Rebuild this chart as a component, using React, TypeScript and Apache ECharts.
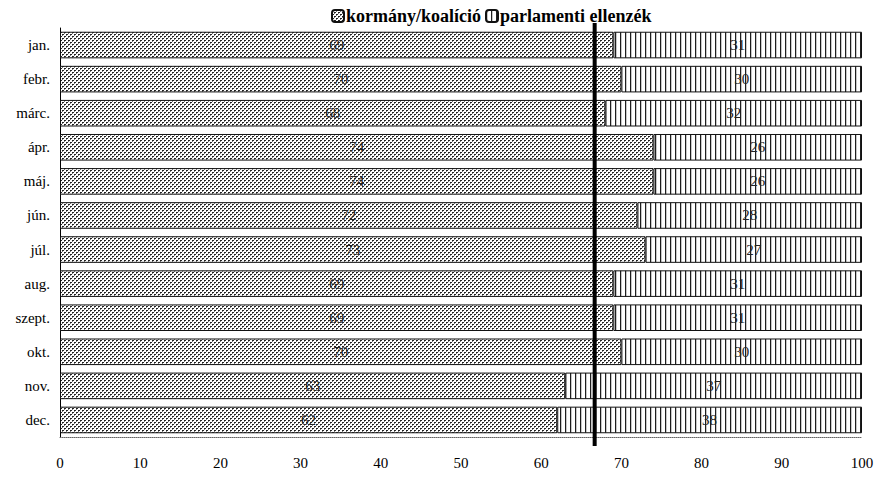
import React, { useEffect, useRef } from "react";
import * as echarts from "echarts";

// Monthly seat shares (%), government coalition vs. parliamentary opposition
const months = ["jan.", "febr.", "márc.", "ápr.", "máj.", "jún.", "júl.", "aug.", "szept.", "okt.", "nov.", "dec."];
const government = [69, 70, 68, 74, 74, 72, 73, 69, 69, 70, 63, 62];
const opposition = [31, 30, 32, 26, 26, 28, 27, 31, 31, 30, 37, 38];
const seriesNames = ["kormány/koalíció", "parlamenti ellenzék"];
const xTicks = [0, 10, 20, 30, 40, 50, 60, 70, 80, 90, 100];
// two-thirds majority threshold
const twoThirds = 200 / 3;

const SERIF = '"Liberation Serif", "Times New Roman", "DejaVu Serif", serif';

function makeTile(w: number, h: number, draw: (img: ImageData) => void): HTMLCanvasElement {
  const c = document.createElement("canvas");
  c.width = w;
  c.height = h;
  const ctx = c.getContext("2d")!;
  const img = ctx.createImageData(w, h);
  for (let i = 0; i < w * h; i++) {
    img.data[i * 4] = 255;
    img.data[i * 4 + 1] = 255;
    img.data[i * 4 + 2] = 255;
    img.data[i * 4 + 3] = 255;
  }
  draw(img);
  ctx.putImageData(img, 0, 0);
  return c;
}

function setPx(img: ImageData, x: number, y: number, v: number) {
  const i = (y * img.width + x) * 4;
  img.data[i] = v;
  img.data[i + 1] = v;
  img.data[i + 2] = v;
}

// staggered dot fill
const dotTile = makeTile(4, 4, (img) => {
  setPx(img, 0, 0, 30);
  setPx(img, 1, 0, 40);
  setPx(img, 2, 2, 30);
  setPx(img, 3, 2, 40);
  setPx(img, 0, 1, 120);
  setPx(img, 2, 3, 120);
});

// vertical hatch fill
const lineTile = makeTile(5, 4, (img) => {
  for (let y = 0; y < 4; y++) {
    setPx(img, 0, y, 30);
    setPx(img, 1, y, 200);
  }
});

const dotPattern: any = { image: dotTile, repeat: "repeat", imageWidth: 4, imageHeight: 4 };
const linePattern: any = { image: lineTile, repeat: "repeat", imageWidth: 5, imageHeight: 4 };

export default function App() {
  const ref = useRef<HTMLDivElement>(null);

  useEffect(() => {
    if (!ref.current) return;
    const chart = echarts.init(ref.current, null, { renderer: "svg" });

    const labelStyle = {
      show: true,
      position: "inside" as const,
      color: "#222",
      fontFamily: SERIF,
      fontSize: 15,
    };

    chart.setOption({
      animation: false,
      backgroundColor: "#fff",
      textStyle: { fontFamily: SERIF },
      legend: {
        top: 2,
        left: 326,
        itemWidth: 12,
        itemHeight: 12,
        itemGap: 4,
        textStyle: { fontFamily: SERIF, fontSize: 18, fontWeight: "bold", color: "#000", padding: [0, 0, 0, -3] },
        data: seriesNames,
      },
      grid: { left: 60, right: 21, top: 28, bottom: 42 },
      xAxis: {
        type: "value",
        min: 0,
        max: 100,
        interval: 10,
        splitLine: { show: false },
        axisTick: { show: false },
        axisLine: { show: true, lineStyle: { color: "#666", type: "dotted", width: 1 } },
        axisLabel: {
          color: "#000",
          fontFamily: SERIF,
          fontSize: 15,
          margin: 18,
          formatter: (v: number) => (xTicks.includes(v) ? String(v) : ""),
        },
      },
      yAxis: {
        type: "category",
        inverse: true,
        data: months,
        axisTick: { show: false },
        axisLine: { show: true, lineStyle: { color: "#000", width: 1 } },
        axisLabel: { color: "#000", fontFamily: SERIF, fontSize: 15, margin: 10 },
      },
      series: [
        {
          name: seriesNames[0],
          type: "bar",
          stack: "total",
          barCategoryGap: "22%",
          data: government,
          itemStyle: { color: dotPattern, borderColor: "#111", borderWidth: 1 },
          label: labelStyle,
        },
        {
          name: seriesNames[1],
          type: "bar",
          stack: "total",
          barCategoryGap: "22%",
          data: opposition,
          itemStyle: { color: linePattern, borderColor: "#111", borderWidth: 1 },
          label: labelStyle,
        },
      ],
    });

    // thick threshold line, a little taller than the plot area
    const x = chart.convertToPixel({ xAxisIndex: 0 }, twoThirds) as number;
    chart.setOption({
      graphic: [
        {
          type: "line",
          z: 100,
          shape: { x1: x, y1: 23, x2: x, y2: 446 },
          style: { stroke: "#000", lineWidth: 4 },
        },
      ],
    });

    return () => chart.dispose();
  }, []);

  return <div ref={ref} style={{ position: "fixed", left: 0, top: 0, width: 883, height: 479 }} />;
}
